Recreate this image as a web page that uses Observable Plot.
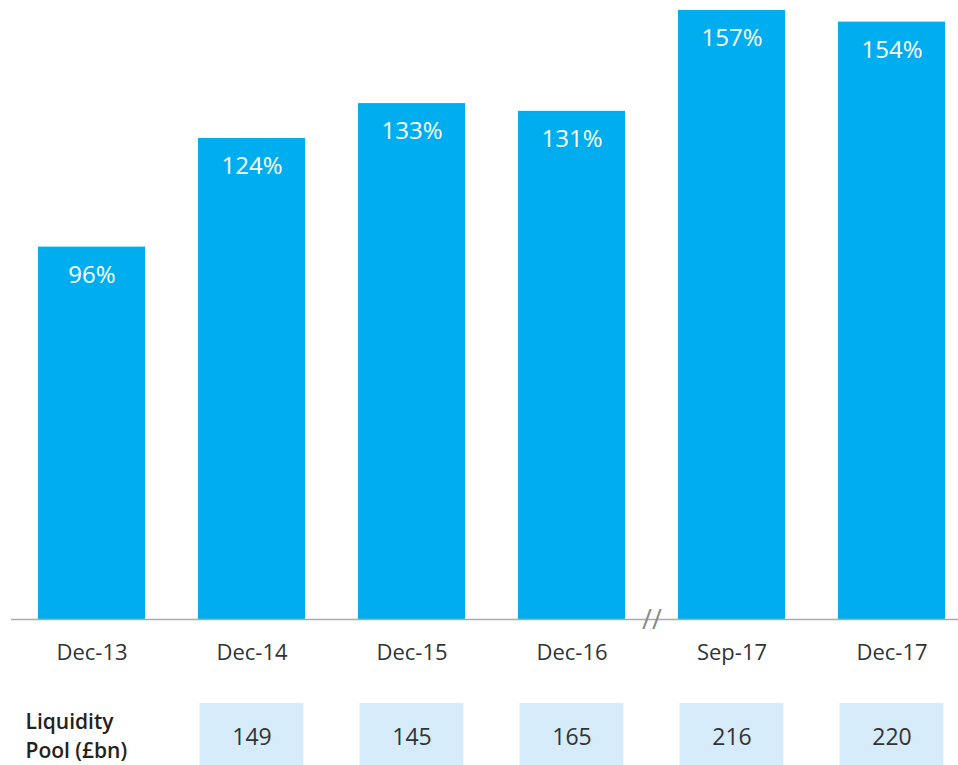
<!DOCTYPE html>
<html>
<head>
<meta charset="utf-8">
<script src="https://cdn.jsdelivr.net/npm/d3@7"></script>
<script src="https://cdn.jsdelivr.net/npm/@observablehq/plot@0.6"></script>
<style>
  html, body { margin: 0; padding: 0; background: #fff; }
  #chart svg { display: block; }
</style>
</head>
<body>
<div id="chart"></div>
<script>
const categories = ["Dec-13", "Dec-14", "Dec-15", "Dec-16", "Sep-17", "Dec-17"];
const lcrValues = [96, 124, 133, 131, 157, 154];
const poolCategories = ["Dec-14", "Dec-15", "Dec-16", "Sep-17", "Dec-17"];
const poolValues = [149, 145, 165, 216, 220];
const breakBefore = ["Sep-17"];
const poolLabel = "Liquidity\nPool (£bn)";

const bars = categories.map((c, i) => ({cat: c, v: lcrValues[i]}));
const pool = poolCategories.map((c, i) => ({cat: c, v: poolValues[i]}));

const FONT = "'Open Sans', 'Noto Sans', sans-serif";
const xScale = {domain: categories, range: [11.5, 971.5], paddingInner: 0.33, paddingOuter: 0.165, axis: null};

const main = Plot.plot({
  width: 958, height: 680,
  marginTop: 10, marginBottom: 61, marginLeft: 11, marginRight: 0,
  style: {fontFamily: FONT, background: "white"},
  x: xScale,
  y: {domain: [0, 157], axis: null},
  marks: [
    Plot.barY(bars, {x: "cat", y: "v", fill: "#00aeef"}),
    Plot.ruleY([0], {stroke: "#aaaaaa", strokeWidth: 1.5}),
    Plot.text(bars, {x: "cat", y: "v", text: d => d.v + "%", dy: 28, fill: "white", fontSize: 24}),
    Plot.text(bars, {x: "cat", y: () => 0, text: "cat", dy: 33, fill: "#333333", fontSize: 22}),
    Plot.text(breakBefore, {x: d => d, y: () => 0, text: () => "//", dx: -80, dy: 1, fill: "#8a8a8a", fontSize: 27})
  ]
});

const table = Plot.plot({
  width: 958, height: 85,
  marginTop: 23, marginBottom: 0, marginLeft: 25, marginRight: 0,
  style: {fontFamily: FONT, background: "white"},
  x: xScale,
  marks: [
    Plot.cell(pool, {x: "cat", fill: "#d6ecfb", insetLeft: 1.5, insetRight: 1.5}),
    Plot.text(pool, {x: "cat", frameAnchor: "middle", text: d => String(d.v), dy: 3, fill: "#333333", fontSize: 23}),
    Plot.text([poolLabel], {frameAnchor: "left", textAnchor: "start", fontWeight: 600, fontSize: 21, lineHeight: 1.36, dy: 0, fill: "#222222"})
  ]
});

document.getElementById("chart").append(main, table);
</script>
</body>
</html>
